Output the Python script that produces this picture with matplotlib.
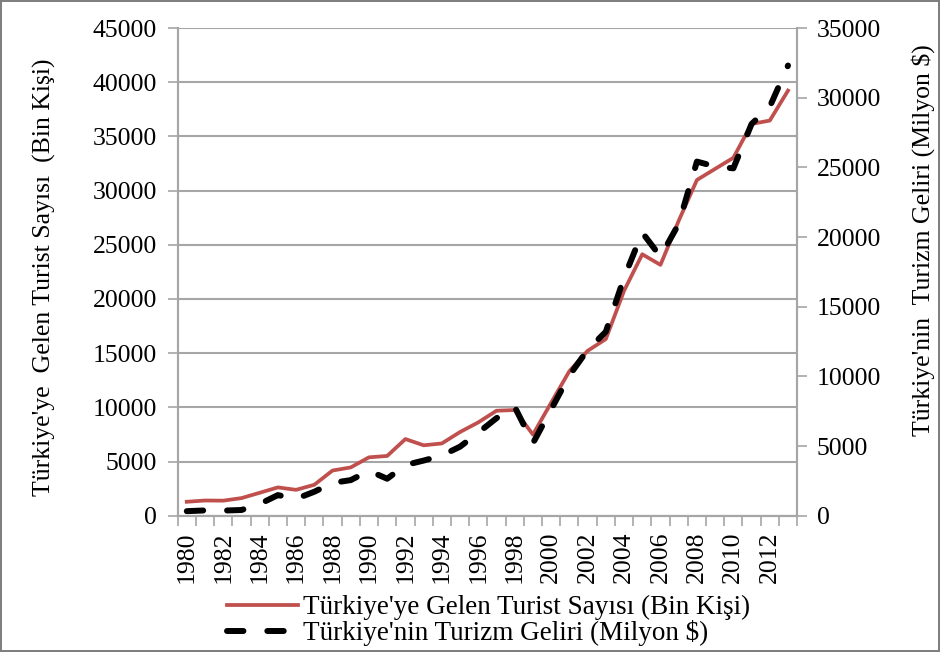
import numpy as np
import matplotlib.pyplot as plt

plt.rcParams['font.family'] = ['Liberation Serif', 'DejaVu Serif']

# Yıllar
yillar = list(range(1980, 2014))

# Türkiye'ye gelen turist sayısı (bin kişi)
turist_sayisi = [1288, 1405, 1391, 1625, 2117, 2614, 2391, 2855, 4172, 4459,
                 5389, 5517, 7076, 6500, 6670, 7726, 8614, 9689, 9752, 7487,
                 10428, 13340, 15214, 16302, 20753, 24125, 23149, 27215, 30980, 32006,
                 33027, 36151, 36463, 39226]

# Türkiye'nin turizm geliri (milyon $)
turizm_geliri = [327, 381, 370, 411, 840, 1482, 1215, 1721, 2355, 2557,
                 3225, 2654, 3639, 3959, 4321, 4957, 5962, 7002, 7809, 5203,
                 7636, 10067, 11901, 13203, 17077, 20322, 18594, 20943, 25415, 25064,
                 24931, 28116, 29351, 32309]

gri = '#a6a6a6'
x = np.arange(len(yillar))

fig = plt.figure(figsize=(9.4, 6.52), dpi=100)
fig.patch.set_edgecolor('#7f7f7f')
fig.patch.set_linewidth(1.5)
ax = fig.add_axes([0.189, 0.209, 0.659, 0.748])
ax2 = ax.twinx()

l1, = ax.plot(x, turist_sayisi, color='#c0504d', lw=2.7, zorder=3)
l2, = ax2.plot(x, turizm_geliri, color='black', lw=4.3, dashes=(2.75, 4.0),
               dash_capstyle='round', zorder=3)

ax.set_xlim(-0.5, len(yillar) - 0.5)
ax.set_ylim(0, 45000)
ax2.set_ylim(0, 35000)
ax.set_yticks(np.arange(0, 45001, 5000))
ax2.set_yticks(np.arange(0, 35001, 5000))
ax.yaxis.grid(True, color=gri, lw=1.5)
ax.set_axisbelow(True)

ax.set_xticks(x[::2])
ax.set_xticklabels([str(y) for y in yillar[::2]], rotation=90)
ax.set_xticks(np.arange(-0.5, len(yillar), 1), minor=True)
ax.tick_params(axis='x', which='major', length=0, pad=11)
ax.tick_params(axis='x', which='minor', length=7, color=gri, width=1.2)
ax.tick_params(axis='y', length=7, color=gri, width=1.2, pad=8)
ax2.tick_params(axis='y', length=7, color=gri, width=1.2, pad=7)
for a in (ax, ax2):
    a.tick_params(labelsize=18.5)
    a.spines['top'].set_visible(False)
    for s in ('left', 'right', 'bottom'):
        a.spines[s].set_color(gri)
        a.spines[s].set_linewidth(1.5)

fig.text(0.047, 0.575, "Türkiye'ye  Gelen Turist Sayısı  (Bin Kişi)", fontsize=18.5,
         rotation=90, ha='center', va='center')
fig.text(0.982, 0.632, "Türkiye'nin  Turizm Geliri (Milyon $)", fontsize=18.5,
         rotation=90, ha='center', va='center')

fig.legend([l1, l2], ["Türkiye'ye Gelen Turist Sayısı (Bin Kişi)",
                      "Türkiye'nin Turizm Geliri (Milyon $)"],
           loc='center', bbox_to_anchor=(0.52, 0.048), frameon=False, fontsize=19.5,
           handlelength=2.6, handletextpad=0.2, labelspacing=0.0, borderpad=0)

fig.savefig('out.png', dpi=100)
